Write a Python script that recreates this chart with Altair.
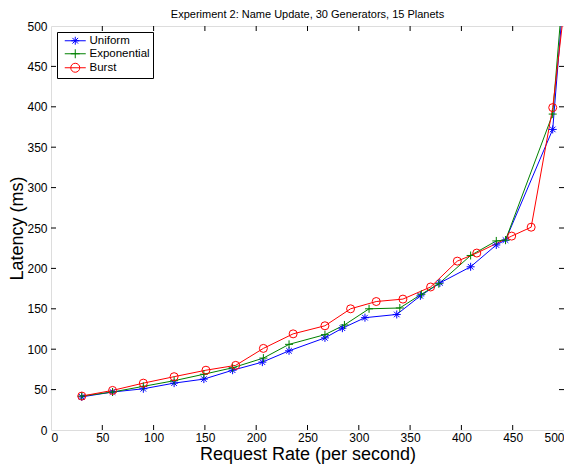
import altair as alt
import pandas as pd

series_names = ["Uniform", "Exponential", "Burst"]
series_colors = ["#0000ff", "#008000", "#ff0000"]

uniform_x = [30, 60, 90, 120, 149, 177, 206, 232, 267, 284, 306, 337, 360, 379, 409, 434, 443, 489, 500]
uniform_y = [41, 47, 51, 58, 63, 74, 84, 98, 114, 126, 139, 143, 166, 182, 202, 229, 235, 372, 545]

expo_x = [30, 60, 90, 120, 149, 177, 207, 232, 267, 286, 310, 340, 361, 378, 409, 434, 443, 489, 500]
expo_y = [42, 47, 54, 61, 69, 77, 89, 106, 118, 130, 150, 151, 168, 181, 216, 234, 235, 391, 560]

burst_x = [30, 60, 90, 120, 151, 180, 207, 236, 267, 292, 317, 343, 370, 396, 415, 449, 468, 489, 500]
burst_y = [42, 49, 58, 66, 74, 80, 101, 119, 129, 150, 159, 162, 177, 209, 219, 240, 251, 399, 520]

x_ticks = [0, 50, 100, 150, 200, 250, 300, 350, 400, 450, 500]
y_ticks = [0, 50, 100, 150, 200, 250, 300, 350, 400, 450, 500]

rows = []
for name, xs, ys in [("Uniform", uniform_x, uniform_y),
                     ("Exponential", expo_x, expo_y),
                     ("Burst", burst_x, burst_y)]:
    for i, (a, b) in enumerate(zip(xs, ys)):
        rows.append({"series": name, "rate": a, "latency": b, "order": i})
df = pd.DataFrame(rows)
xt = pd.DataFrame({"v": x_ticks[1:-1]})
yt = pd.DataFrame({"v": y_ticks[1:-1]})

W, H = 513, 404
FONT = "Liberation Sans"

x_scale = alt.Scale(domain=[0, 500], nice=False, zero=False)
y_scale = alt.Scale(domain=[0, 500], nice=False, zero=False)

x_axis = alt.Axis(values=x_ticks, tickSize=0, domain=False, grid=False,
                  labelFontSize=12, labelPadding=2, labelFont=FONT,
                  title="Request Rate (per second)", titleFontSize=18,
                  titleFont=FONT, titleFontWeight="normal", titlePadding=2,
                  labelColor="black", titleColor="black")
y_axis = alt.Axis(values=y_ticks, tickSize=0, domain=False, grid=False,
                  labelFontSize=12, labelPadding=4, labelFont=FONT,
                  title="Latency (ms)", titleFontSize=18, titleFont=FONT,
                  titleFontWeight="normal", titlePadding=0,
                  labelColor="black", titleColor="black")

color_scale = alt.Scale(domain=series_names, range=series_colors)

star = "M-1,0L1,0M0,-1L0,1M-0.7,-0.7L0.7,0.7M-0.7,0.7L0.7,-0.7"
plus = "M-1,0L1,0M0,-1L0,1"
marker_scale = alt.Scale(domain=series_names, range=[star, plus, "circle"])

# legend symbols: line + marker (unit = 5px with size 100)
c = 1.9
leg_line = "M-0.2,0L4,0"
leg_star = (leg_line + f"M{c-0.8},0L{c+0.8},0M{c},-0.8L{c},0.8"
            f"M{c-0.57},-0.57L{c+0.57},0.57M{c-0.57},0.57L{c+0.57},-0.57")
leg_plus = leg_line + f"M{c-0.9},0L{c+0.9},0M{c},-0.9L{c},0.9"
leg_circ = (leg_line + f"M{c+0.9},0A0.9,0.9 0 1,1 {c-0.9},0A0.9,0.9 0 1,1 {c+0.9},0")
legend_shape_scale = alt.Scale(domain=series_names, range=[leg_star, leg_plus, leg_circ])

base = alt.Chart(df)

lines = base.mark_line(strokeWidth=1, clip=True).encode(
    x=alt.X("rate:Q", scale=x_scale, axis=x_axis),
    y=alt.Y("latency:Q", scale=y_scale, axis=y_axis),
    color=alt.Color("series:N", scale=color_scale, legend=None),
    order="order:Q",
    detail="series:N",
)

points = base.mark_point(filled=False, strokeWidth=1, clip=True, opacity=1).encode(
    x=alt.X("rate:Q", scale=x_scale),
    y=alt.Y("latency:Q", scale=y_scale),
    color=alt.Color("series:N", scale=color_scale, legend=None),
    shape=alt.Shape("series:N", scale=marker_scale, legend=None),
    size=alt.value(64),
)

leg = alt.Legend(
    title=None, orient="top-left", offset=6, padding=3,
    strokeColor="black", fillColor="white", symbolSize=100,
    symbolStrokeWidth=1, labelFontSize=11.5, labelFont=FONT,
    labelOffset=18, rowPadding=0, labelColor="black",
    symbolFillColor="transparent")

legend_layer = base.mark_point(filled=False, strokeWidth=1, opacity=1).encode(
    x=alt.X("rate:Q", scale=x_scale),
    y=alt.Y("latency:Q", scale=y_scale),
    color=alt.Color("series:N", scale=color_scale, legend=leg),
    shape=alt.Shape("series:N", scale=legend_shape_scale, legend=leg),
).transform_filter("false")

tick_len = 5
bottom_ticks = alt.Chart(xt).mark_rule(color="black", strokeWidth=1).encode(
    x=alt.X("v:Q", scale=x_scale), y=alt.value(H), y2=alt.value(H - tick_len))
top_ticks = alt.Chart(xt).mark_rule(color="black", strokeWidth=1).encode(
    x=alt.X("v:Q", scale=x_scale), y=alt.value(0), y2=alt.value(tick_len))
left_ticks = alt.Chart(yt).mark_rule(color="black", strokeWidth=1).encode(
    y=alt.Y("v:Q", scale=y_scale), x=alt.value(0), x2=alt.value(tick_len))
right_ticks = alt.Chart(yt).mark_rule(color="black", strokeWidth=1).encode(
    y=alt.Y("v:Q", scale=y_scale), x=alt.value(W), x2=alt.value(W - tick_len))

chart = alt.layer(
    bottom_ticks, top_ticks, left_ticks, right_ticks, lines, points, legend_layer
).resolve_scale(shape="independent", color="independent").properties(
    width=W, height=H,
    title=alt.TitleParams("Experiment 2: Name Update, 30 Generators, 15 Planets",
                          fontSize=11, font=FONT, fontWeight="normal",
                          color="black", offset=0),
    autosize=alt.AutoSizeParams(type="none"),
    padding={"left": 43, "top": 18, "right": 0, "bottom": 40},
).configure_view(stroke="black", strokeWidth=1.2).configure(background="white")

chart.save("out.html", embed_options={"renderer": "svg", "actions": False})
